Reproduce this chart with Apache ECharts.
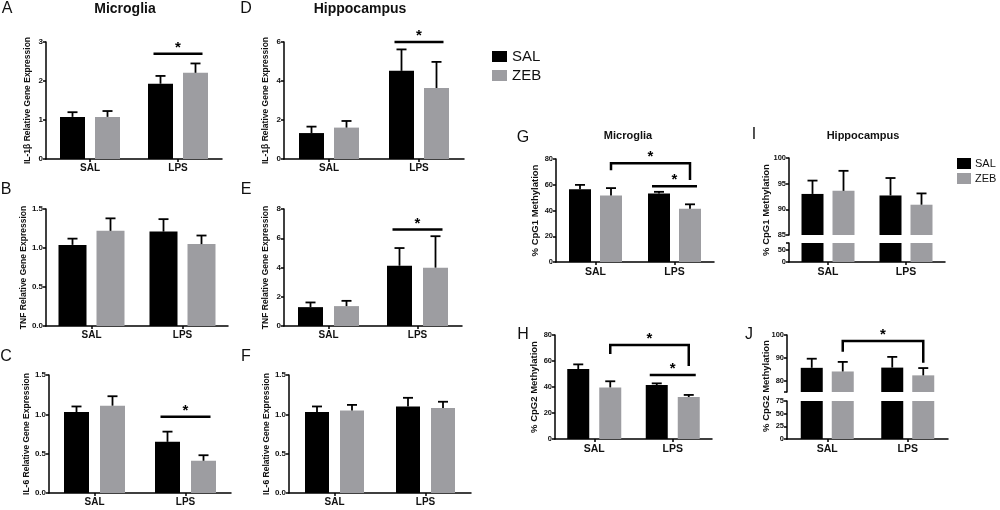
<!DOCTYPE html>
<html>
<head>
<meta charset="utf-8">
<script src="https://cdn.jsdelivr.net/npm/echarts@6/dist/echarts.min.js"></script>
<style>
  html, body { margin: 0; padding: 0; background: #fff; }
  #chart { width: 1000px; height: 510px; }
</style>
</head>
<body>
<div id="chart"></div>
<script>
// groups on every x axis
var groups = ['SAL', 'LPS'];

// A - microglia IL-1b (mean, SEM) for SAL and ZEB pups
var aSal = [1.08, 1.93], aSalErr = [0.12, 0.20];
var aZeb = [1.08, 2.21], aZebErr = [0.15, 0.24];
// B - microglia TNF
var bSal = [1.04, 1.21], bSalErr = [0.08, 0.16];
var bZeb = [1.22, 1.05], bZebErr = [0.16, 0.11];
// C - microglia IL-6
var cSal = [1.03, 0.65], cSalErr = [0.07, 0.13];
var cZeb = [1.11, 0.41], cZebErr = [0.12, 0.07];
// D - hippocampus IL-1b
var dSal = [1.33, 4.52], dSalErr = [0.33, 1.10];
var dZeb = [1.61, 3.64], dZebErr = [0.34, 1.34];
// E - hippocampus TNF
var eSal = [1.29, 4.12], eSalErr = [0.32, 1.21];
var eZeb = [1.36, 3.99], eZebErr = [0.36, 2.15];
// F - hippocampus IL-6
var fSal = [1.03, 1.10], fSalErr = [0.07, 0.11];
var fZeb = [1.05, 1.08], fZebErr = [0.07, 0.08];
// G, H - microglia CpG methylation (%)
var gSal = [56.6, 53.3], gSalErr = [3.3, 1.2];
var gZeb = [51.7, 41.4], gZebErr = [5.7, 3.4];
var hSal = [53.8, 41.5], hSalErr = [3.6, 1.3];
var hZeb = [39.7, 32.3], hZebErr = [4.7, 1.6];
// I, J - hippocampus CpG methylation (%)
var iSal = [93.0, 92.7], iSalErr = [2.6, 3.4];
var iZeb = [93.6, 90.9], iZebErr = [3.9, 2.2];
var jSal = [85.6, 85.7], jSalErr = [4.0, 4.7];
var jZeb = [84.0, 82.3], jZebErr = [4.2, 3.2];

// significance marks: [left group, left bar (0 SAL / 1 ZEB), right group, right bar, height, left leg end, right leg end]
var sigA = [[1, 0, 1, 1, 2.7]];
var sigC = [[1, 0, 1, 1, 0.97]];
var sigD = [[1, 0, 1, 1, 6.0]];
var sigE = [[1, 0, 1, 1, 6.6]];
var sigG = [[0, 1, 1, 1, 76.7, 71.3, 63.6], [1, 0, 1, 1, 58.9]];
var sigH = [[0, 1, 1, 1, 72.3, 65.4, 56.2], [1, 0, 1, 1, 49.2]];
var sigJ = [[0, 1, 1, 1, 97.4, 92.6, 87.8]];

var FONT = '"Liberation Sans", Arial, sans-serif';
var BLACK = '#000000';
var GRAY = '#9d9da1';

var myChart = echarts.init(document.getElementById('chart'));

var option = {
    animation: false,
    backgroundColor: '#fff',
    grid: [], xAxis: [], yAxis: [], series: [],
    legend: [
        {
            left: 487, top: 44, orient: 'vertical', selectedMode: false,
            icon: 'rect', itemWidth: 15, itemHeight: 11, itemGap: 4,
            textStyle: {color: '#111', fontFamily: FONT, fontSize: 15},
            data: ['SAL', 'ZEB']
        },
        {
            left: 957, top: 158, orient: 'vertical', selectedMode: false, padding: 0,
            icon: 'rect', itemWidth: 14, itemHeight: 11, itemGap: 4,
            textStyle: {color: '#111', fontFamily: FONT, fontSize: 11, padding: [0, 0, 0, -1]},
            data: ['SAL', 'ZEB']
        }
    ],
    graphic: []
};

function txt(x, y, s, font, rot) {
    option.graphic.push({
        type: 'text', x: x, y: y, rotation: rot || 0, silent: true,
        style: {text: s, font: font, fill: '#111', align: 'center', verticalAlign: 'middle',
                textAlign: 'center', textVerticalAlign: 'middle'}
    });
}

function errSeries(gi, mean, err, off) {
    return {
        type: 'custom', xAxisIndex: gi, yAxisIndex: gi, z: 4, silent: true, clip: false,
        encode: {x: 0, y: 1},
        data: mean.map(function (m, i) { return [i, m, err[i]]; }),
        renderItem: function (params, api) {
            var p0 = api.coord([api.value(0), api.value(1)]);
            var p1 = api.coord([api.value(0), api.value(1) + api.value(2)]);
            var cx = p0[0] + off;
            var st = {stroke: '#000', lineWidth: 1.8};
            return {type: 'group', children: [
                {type: 'line', shape: {x1: cx, y1: p0[1], x2: cx, y2: p1[1]}, style: st},
                {type: 'line', shape: {x1: cx - 5, y1: p1[1], x2: cx + 5, y2: p1[1]}, style: st}
            ]};
        }
    };
}

function sigSeries(gi, list, off) {
    return {
        type: 'custom', xAxisIndex: gi, yAxisIndex: gi, z: 5, silent: true, clip: false,
        encode: {x: 0, y: 1},
        data: list.map(function (s) { return [s[0], s[4]]; }),
        renderItem: function (params, api) {
            var s = list[params.dataIndex];
            var xl = api.coord([s[0], s[4]])[0] + (s[1] ? off : -off);
            var xr = api.coord([s[2], s[4]])[0] + (s[3] ? off : -off);
            var yt = api.coord([s[0], s[4]])[1];
            var kids = [];
            if (s.length > 5) {
                var yl = api.coord([s[0], s[5]])[1];
                var yr = api.coord([s[2], s[6]])[1];
                kids.push({type: 'polyline', shape: {points: [[xl, yl], [xl, yt], [xr, yt], [xr, yr]]},
                           style: {stroke: '#000', lineWidth: 2.5, fill: 'none'}});
            } else {
                kids.push({type: 'line', shape: {x1: xl - 7, y1: yt, x2: xr + 7, y2: yt},
                           style: {stroke: '#000', lineWidth: 2.5}});
            }
            kids.push({type: 'text', style: {text: '*', x: (xl + xr) / 2, y: yt - 6,
                       align: 'center', verticalAlign: 'middle', textAlign: 'center', textVerticalAlign: 'middle',
                       font: 'bold 15px ' + FONT, fill: '#000'}});
            return {type: 'group', children: kids};
        }
    };
}

// p.box = [left, top, right, bottom] of the plot area in pixels
function addPanel(p) {
    var gi = option.grid.length;
    var showX = !p.noX;
    option.grid.push({left: p.box[0], top: p.box[1], width: p.box[2] - p.box[0], height: p.box[3] - p.box[1]});
    option.xAxis.push({
        type: 'category', gridIndex: gi, data: groups,
        axisLine: {show: showX, lineStyle: {color: '#000', width: 1.5}},
        axisTick: {show: showX, alignWithLabel: true, length: 3, lineStyle: {color: '#000', width: 1.5}},
        axisLabel: {show: showX, color: '#111', fontFamily: FONT, fontWeight: 'bold', fontSize: p.catSize, margin: p.catMargin}
    });
    var y = {
        type: 'value', gridIndex: gi, min: p.min, max: p.max, interval: p.interval,
        name: p.name || '', nameLocation: 'middle', nameGap: p.nameGap || 14,
        nameTextStyle: {color: '#111', fontFamily: FONT, fontWeight: 'bold', fontSize: p.nameSize},
        axisLine: {show: true, lineStyle: {color: '#000', width: 1.5}},
        axisTick: {show: true, length: 3, lineStyle: {color: '#000', width: 1.5}},
        axisLabel: {color: '#111', fontFamily: FONT, fontWeight: 'bold', fontSize: p.tickSize, margin: 3,
                    formatter: function (v) { return v.toFixed(p.dec || 0); }},
        splitLine: {show: false}
    };
    if (p.ticks) {
        y.axisTick.customValues = p.ticks;
        y.axisLabel.customValues = p.labels;
    }
    option.yAxis.push(y);
    var off = (p.bw + p.gap) / 2;
    var gapPct = (p.gap / p.bw * 100) + '%';
    option.series.push({type: 'bar', name: 'SAL', xAxisIndex: gi, yAxisIndex: gi, data: p.sal,
                        barWidth: p.bw, barGap: gapPct, itemStyle: {color: BLACK}, silent: true, z: 2});
    option.series.push({type: 'bar', name: 'ZEB', xAxisIndex: gi, yAxisIndex: gi, data: p.zeb,
                        barWidth: p.bw, barGap: gapPct, itemStyle: {color: GRAY}, silent: true, z: 2});
    if (p.salErr) {
        option.series.push(errSeries(gi, p.sal, p.salErr, -off));
        option.series.push(errSeries(gi, p.zeb, p.zebErr, off));
    }
    if (p.sig) option.series.push(sigSeries(gi, p.sig, off));
}

var small = {catSize: 10, catMargin: 4, nameSize: 8.5, tickSize: 8};
function left(p) {
    for (var k in small) if (p[k] === undefined) p[k] = small[k];
    addPanel(p);
}

left({box: [46, 42, 222, 159], min: 0, max: 3, interval: 1, name: 'IL-1\u03b2 Relative Gene Expression',
      sal: aSal, salErr: aSalErr, zeb: aZeb, zebErr: aZebErr, bw: 25, gap: 10, sig: sigA});
left({box: [46, 209, 228, 326], min: 0, max: 1.5, interval: 0.5, dec: 1, name: 'TNF Relative Gene Expression',
      sal: bSal, salErr: bSalErr, zeb: bZeb, zebErr: bZebErr, bw: 28, gap: 10});
left({box: [49, 375, 231, 493], min: 0, max: 1.5, interval: 0.5, dec: 1, name: 'IL-6 Relative Gene Expression',
      sal: cSal, salErr: cSalErr, zeb: cZeb, zebErr: cZebErr, bw: 25, gap: 11, sig: sigC});
left({box: [284, 42, 464, 159], min: 0, max: 6, interval: 2, name: 'IL-1\u03b2 Relative Gene Expression',
      sal: dSal, salErr: dSalErr, zeb: dZeb, zebErr: dZebErr, bw: 25, gap: 10, sig: sigD});
left({box: [284, 209, 462, 326], min: 0, max: 8, interval: 2, name: 'TNF Relative Gene Expression',
      sal: eSal, salErr: eSalErr, zeb: eZeb, zebErr: eZebErr, bw: 25, gap: 11, sig: sigE});
left({box: [289, 375, 471, 493], min: 0, max: 1.5, interval: 0.5, dec: 1, name: 'IL-6 Relative Gene Expression',
      sal: fSal, salErr: fSalErr, zeb: fZeb, zebErr: fZebErr, bw: 24, gap: 11});

var right = {catSize: 10.5, catMargin: 5, nameSize: 9.5, tickSize: 7.5};
function rp(p) {
    for (var k in right) if (p[k] === undefined) p[k] = right[k];
    addPanel(p);
}
rp({box: [556, 159, 714, 262], min: 0, max: 80, interval: 20, name: '% CpG1 Methylation',
    sal: gSal, salErr: gSalErr, zeb: gZeb, zebErr: gZebErr, bw: 22, gap: 9, sig: sigG});
rp({box: [555, 335, 712, 439], min: 0, max: 80, interval: 20, name: '% CpG2 Methylation',
    sal: hSal, salErr: hSalErr, zeb: hZeb, zebErr: hZebErr, bw: 22, gap: 10, sig: sigH});
// I: broken axis, upper and lower part
rp({box: [789, 158, 945, 235], min: 85, max: 100, interval: 5, noX: true,
    sal: iSal, salErr: iSalErr, zeb: iZeb, zebErr: iZebErr, bw: 22, gap: 9});
rp({box: [789, 243, 945, 262], min: 0, max: 80, ticks: [0, 50, 80], labels: [0, 50],
    sal: iSal, zeb: iZeb, bw: 22, gap: 9});
// J: broken axis
rp({box: [787, 335, 948, 392], min: 75, max: 100, ticks: [75, 80, 90, 100], labels: [80, 90, 100], noX: true,
    sal: jSal, salErr: jSalErr, zeb: jZeb, zebErr: jZebErr, bw: 22, gap: 9, sig: sigJ});
rp({box: [787, 401, 948, 439], min: 0, max: 75, interval: 25,
    sal: jSal, zeb: jZeb, bw: 22, gap: 9});

// titles, panel letters, broken-axis names
txt(125, 9, 'Microglia', 'bold 14px ' + FONT);
txt(360, 9, 'Hippocampus', 'bold 14px ' + FONT);
txt(628, 136, 'Microglia', 'bold 11px ' + FONT);
txt(863, 136, 'Hippocampus', 'bold 11px ' + FONT);
txt(7, 9, 'A', '16px ' + FONT);
txt(246, 9, 'D', '16px ' + FONT);
txt(6, 190, 'B', '16px ' + FONT);
txt(246, 190, 'E', '16px ' + FONT);
txt(6, 357, 'C', '16px ' + FONT);
txt(246, 357, 'F', '16px ' + FONT);
txt(523, 138, 'G', '16px ' + FONT);
txt(523, 335, 'H', '16px ' + FONT);
txt(754, 135, 'I', '16px ' + FONT);
txt(749, 335, 'J', '16px ' + FONT);
txt(766, 210, '% CpG1 Methylation', 'bold 9.5px ' + FONT, Math.PI / 2);
txt(766, 386, '% CpG2 Methylation', 'bold 9.5px ' + FONT, Math.PI / 2);

myChart.setOption(option);
</script>
</body>
</html>
